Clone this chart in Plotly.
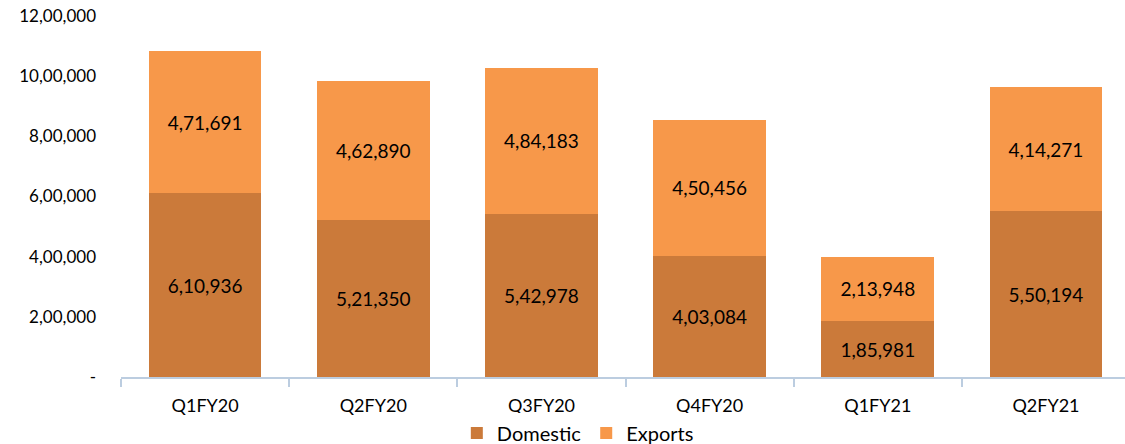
import plotly.graph_objects as go

quarters = ["Q1FY20", "Q2FY20", "Q3FY20", "Q4FY20", "Q1FY21", "Q2FY21"]
domestic = [610936, 521350, 542978, 403084, 185981, 550194]
exports = [471691, 462890, 484183, 450456, 213948, 414271]
ytick_vals = [0, 200000, 400000, 600000, 800000, 1000000, 1200000]
ytick_text = ["-", "2,00,000", "4,00,000", "6,00,000", "8,00,000", "10,00,000", "12,00,000"]


def indian(n):
    s = str(n)
    if len(s) <= 3:
        return s
    last3 = s[-3:]
    rest = s[:-3]
    parts = []
    while len(rest) > 2:
        parts.insert(0, rest[-2:])
        rest = rest[:-2]
    if rest:
        parts.insert(0, rest)
    return ",".join(parts) + "," + last3


FONT = "Lato, 'Open Sans', sans-serif"

fig = go.Figure()
fig.add_trace(go.Bar(
    x=quarters, y=domestic, name="Domestic",
    marker=dict(color="#CB7A3A", line=dict(width=0)),
    text=[indian(v) for v in domestic], textposition="inside",
    insidetextanchor="middle", textangle=0,
    textfont=dict(color="#000000", size=19, family=FONT),
))
fig.add_trace(go.Bar(
    x=quarters, y=exports, name="Exports",
    marker=dict(color="#F7984A", line=dict(width=0)),
    text=[indian(v) for v in exports], textposition="inside",
    insidetextanchor="middle", textangle=0,
    textfont=dict(color="#000000", size=19, family=FONT),
))

fig.update_layout(
    barmode="stack",
    bargap=0.33,
    width=1125, height=444,
    margin=dict(l=121, r=0, t=16, b=67, autoexpand=False),
    plot_bgcolor="white", paper_bgcolor="white",
    font=dict(family=FONT, size=17, color="#000000"),
    legend=dict(orientation="h", x=0.455, xanchor="center", y=-0.155, yanchor="middle",
                font=dict(size=20), itemwidth=30, traceorder="normal"),
    xaxis=dict(
        range=[-0.5, 5.47],
        showline=True, linecolor="#BCCDE0", linewidth=1.5,
        ticks="outside", tickson="boundaries", ticklen=8, tickcolor="#BCCDE0",
        tickwidth=1.5, showgrid=False, ticklabelstandoff=12,
        tickfont=dict(size=18),
    ),
    yaxis=dict(
        range=[0, 1200000], tickvals=ytick_vals, ticktext=ytick_text,
        showgrid=False, showline=False, zeroline=False,
        ticks="", ticklabelstandoff=24, tickfont=dict(size=17),
    ),
)

fig.write_html("out.html")
